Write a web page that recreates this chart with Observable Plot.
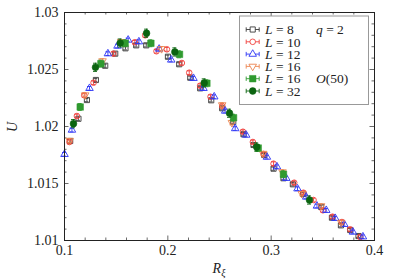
<!DOCTYPE html>
<html><head><meta charset="utf-8">
<script src="https://cdn.jsdelivr.net/npm/d3@7"></script>
<script src="https://cdn.jsdelivr.net/npm/@observablehq/plot@0.6"></script>
<style>body{margin:0;background:#fff}#chart{width:395px;height:280px}</style>
</head><body><div id="chart"></div>
<script>
// ---- data ----
const xL8 = [0.1055,0.1135,0.1217,0.1304,0.1394,0.1491,0.1590,0.1694,0.1791,0.2001,0.2110,0.2217,0.2313,0.2420,0.2526,0.2633,0.2732,0.2829,0.2933,0.3023,0.3119,0.3210,0.3310,0.3484,0.3588,0.3675,0.3765,0.3845];
const uL8 = [1.01873,1.02068,1.02232,1.02408,1.02533,1.02639,1.02686,1.02712,1.02712,1.02612,1.02546,1.02428,1.02335,1.02230,1.02160,1.02039,1.01932,1.01838,1.01750,1.01630,1.01546,1.01493,1.01408,1.01294,1.01200,1.01133,1.01092,1.01039];
const xL10 = [0.1048,0.1120,0.1191,0.1281,0.1474,0.1681,0.1781,0.1890,0.1991,0.2136,0.2207,0.2313,0.2413,0.2526,0.2727,0.2823,0.2926,0.3023,0.3223,0.3313,0.3410,0.3501,0.3594,0.3685,0.3765,0.3862];
const uL10 = [1.01864,1.02092,1.02274,1.02384,1.02639,1.02739,1.02800,1.02660,1.02677,1.02557,1.02472,1.02358,1.02261,1.02180,1.01954,1.01864,1.01759,1.01674,1.01507,1.01419,1.01355,1.01265,1.01209,1.01162,1.01098,1.01031];
const xL12 = [0.1000,0.1072,0.1242,0.1420,0.1513,0.1616,0.1720,0.1916,0.2033,0.2248,0.2345,0.2449,0.2555,0.2652,0.2758,0.2959,0.3056,0.3146,0.3255,0.3339,0.3443,0.3533,0.3620,0.3707,0.3791,0.3888];
const uL12 = [1.01756,1.01969,1.02335,1.02639,1.02706,1.02759,1.02744,1.02680,1.02584,1.02423,1.02335,1.02261,1.02136,1.01982,1.01925,1.01732,1.01647,1.01546,1.01454,1.01382,1.01303,1.01265,1.01195,1.01142,1.01075,1.01033];
const xL16 = [0.1050,0.1200,0.1368,0.1549,0.1939,0.2526,0.2620,0.2923,0.3110,0.3297,0.3484,0.3678];
const uL16 = [1.01877,1.02276,1.02575,1.02744,1.02682,1.02189,1.02033,1.01763,1.01601,1.01411,1.01303,1.01158];
const xL16o50 = [0.1152,0.1352,0.1587,0.1836,0.2113,0.2378,0.2636,0.2875,0.3119];
const uL16o50 = [1.02171,1.02551,1.02730,1.02730,1.02633,1.02379,1.02077,1.01811,1.01581];
const xL32 = [0.1087,0.1300,0.1539,0.1794,0.2068,0.2352,0.2597,0.2860,0.3371];
const uL32 = [1.02025,1.02519,1.02732,1.02818,1.02654,1.02382,1.02116,1.01820,1.01355];
const errs = [0.00014, 0.00016, 0.00016, 0.00018, 0.00030, 0.00036];
const legendLabels = ["8", "10", "12", "16", "16", "32"];
const xTicks = [0.1, 0.2, 0.3, 0.4];
const yTicks = [1.01, 1.015, 1.02, 1.025, 1.03];
const xMinor = [0.12,0.14,0.16,0.18,0.22,0.24,0.26,0.28,0.32,0.34,0.36,0.38];
const yMinor = [1.011,1.012,1.013,1.014,1.016,1.017,1.018,1.019,1.021,1.022,1.023,1.024,1.026,1.027,1.028,1.029];

// ---- styles ----
const styles = [
  {symbol:"square",   filled:false, color:"#3a3a3a", r:2.9, rotate:0},
  {symbol:"circle",   filled:false, color:"#f0403c", r:2.8, rotate:0},
  {symbol:"triangle", filled:false, color:"#2e35f5", r:2.8, rotate:0},
  {symbol:"triangle", filled:false, color:"#ec8550", r:2.8, rotate:180},
  {symbol:"square",   filled:true,  color:"#2f9a2f", r:3.7, rotate:0},
  {symbol:"circle",   filled:true,  color:"#0b6410", r:3.4, rotate:0}
];
const xs = [xL8, xL10, xL12, xL16, xL16o50, xL32];
const us = [uL8, uL10, uL12, uL16, uL16o50, uL32];

const W = 395, H = 280, mL = 64, mR = 21, mT = 12, mB = 40;
const pw = W - mL - mR, ph = H - mT - mB;
const capHalf = 2.0 * (0.3 / pw); // cap half-width in x units

const marks = [];
xs.forEach((xa, k) => {
  const st = styles[k];
  const rows = xa.map((x, i) => ({x, u: us[k][i], e: errs[k]}));
  marks.push(Plot.ruleX(rows, {x: "x", y1: d => d.u - d.e, y2: d => d.u + d.e, stroke: st.color, strokeWidth: 0.9}));
  marks.push(Plot.ruleY(rows, {y: d => d.u - d.e, x1: d => d.x - capHalf, x2: d => d.x + capHalf, stroke: st.color, strokeWidth: 0.9}));
  marks.push(Plot.ruleY(rows, {y: d => d.u + d.e, x1: d => d.x - capHalf, x2: d => d.x + capHalf, stroke: st.color, strokeWidth: 0.9}));
  marks.push(Plot.dot(rows, {x: "x", y: "u", symbol: () => st.symbol, r: st.r, rotate: st.rotate,
    fill: st.filled ? st.color : "none", stroke: st.color, strokeWidth: st.filled ? 0.5 : 0.9}));
});

const serif = "Liberation Serif, DejaVu Serif, serif";
const chart = Plot.plot({
  width: W, height: H, marginLeft: mL, marginRight: mR, marginTop: mT, marginBottom: mB,
  x: {domain: [0.1, 0.4]},
  y: {domain: [1.01, 1.03]},
  symbol: {type: "identity"},
  style: {fontFamily: serif, fontSize: "14px", color: "#222", background: "#fff"},
  marks: [
    Plot.ruleX(xMinor, {x: d => d, insetTop: ph - 2.5, stroke: "#444", strokeWidth: 0.8}),
    Plot.ruleX(xMinor, {x: d => d, insetBottom: ph - 2.5, stroke: "#444", strokeWidth: 0.8}),
    Plot.ruleX(xTicks, {x: d => d, insetTop: ph - 4.5, stroke: "#444", strokeWidth: 0.8}),
    Plot.ruleX(xTicks, {x: d => d, insetBottom: ph - 4.5, stroke: "#444", strokeWidth: 0.8}),
    Plot.ruleY(yMinor, {y: d => d, insetRight: pw - 2.5, stroke: "#444", strokeWidth: 0.8}),
    Plot.ruleY(yMinor, {y: d => d, insetLeft: pw - 2.5, stroke: "#444", strokeWidth: 0.8}),
    Plot.ruleY(yTicks, {y: d => d, insetRight: pw - 4.5, stroke: "#444", strokeWidth: 0.8}),
    Plot.ruleY(yTicks, {y: d => d, insetLeft: pw - 4.5, stroke: "#444", strokeWidth: 0.8}),
    ...marks,
    Plot.frame({stroke: "#222", strokeWidth: 1}),
    Plot.axisX(xTicks, {tickSize: 0, tickPadding: 5, tickFormat: d3.format(".1f"), label: null, fill: "#222"}),
    Plot.axisY(yTicks, {tickSize: 0, tickPadding: 6, tickFormat: d => String(+d.toFixed(3)), label: null, fill: "#222"})
  ]
});
document.getElementById("chart").appendChild(chart);

// ---- axis titles and legend ----
const svg = d3.select(chart);
const xl = svg.append("text").attr("x", mL + pw / 2).attr("y", 273).attr("text-anchor", "middle")
  .attr("font-family", serif).attr("font-size", 14).attr("fill", "#222");
xl.append("tspan").attr("font-style", "italic").text("R");
xl.append("tspan").attr("font-style", "italic").attr("font-size", 10).attr("dy", 3).text("ξ");
svg.append("text").attr("transform", "translate(17,127) rotate(-90)").attr("text-anchor", "middle")
  .attr("font-family", serif).attr("font-style", "italic").attr("font-size", 14).attr("fill", "#222").text("U");

const lg = svg.append("g").attr("text-anchor", "start");
lg.append("rect").attr("x", 239.5).attr("y", 16).attr("width", 129).attr("height", 88.5)
  .attr("fill", "#fff").attr("stroke", "#999").attr("stroke-width", 1);
const sym = {square: d3.symbolSquare, circle: d3.symbolCircle, triangle: d3.symbolTriangle};
styles.forEach((st, i) => {
  const cy = 29.5 + i * 12.3, cx = 252.7;
  lg.append("line").attr("x1", cx - 6.5).attr("x2", cx + 6.5).attr("y1", cy).attr("y2", cy).attr("stroke", st.color).attr("stroke-width", 0.9);
  [cx - 6.5, cx + 6.5].forEach(x => lg.append("line").attr("x1", x).attr("x2", x).attr("y1", cy - 2.2).attr("y2", cy + 2.2).attr("stroke", st.color).attr("stroke-width", 0.9));
  lg.append("path").attr("d", d3.symbol(sym[st.symbol], Math.PI * st.r * st.r)())
    .attr("transform", `translate(${cx},${cy}) rotate(${st.rotate})`)
    .attr("fill", st.filled ? st.color : "#fff").attr("stroke", st.color).attr("stroke-width", st.filled ? 0.5 : 0.9);
  const t = lg.append("text").attr("x", 265).attr("y", cy + 4.7).attr("text-anchor", "start")
    .attr("font-family", serif).attr("font-size", 13.5).attr("fill", "#222");
  t.append("tspan").attr("font-style", "italic").text("L");
  t.append("tspan").text(" = " + legendLabels[i]);
});
const q = lg.append("text").attr("x", 316).attr("y", 29.5 + 4.7).attr("text-anchor", "start")
  .attr("font-family", serif).attr("font-size", 13.5).attr("fill", "#222");
q.append("tspan").attr("font-style", "italic").text("q");
q.append("tspan").text(" = 2");
const o = lg.append("text").attr("x", 316).attr("y", 29.5 + 4 * 12.3 + 4.7).attr("text-anchor", "start")
  .attr("font-family", serif).attr("font-size", 13.5).attr("fill", "#222");
o.append("tspan").attr("font-style", "italic").text("O");
o.append("tspan").text("(50)");
</script>
</body></html>
